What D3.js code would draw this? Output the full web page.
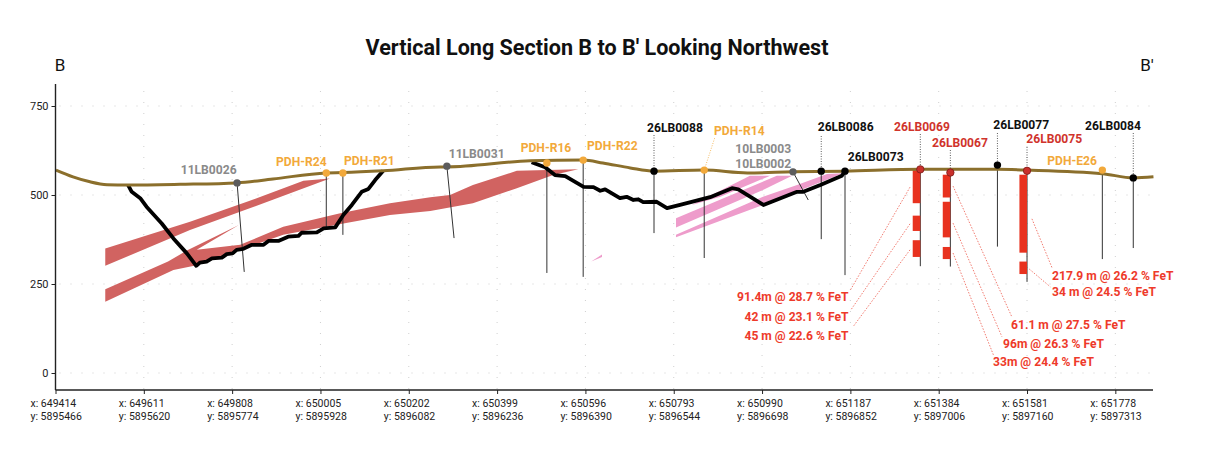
<!DOCTYPE html>
<html>
<head>
<meta charset="utf-8">
<script src="https://cdn.jsdelivr.net/npm/d3@7"></script>
<style>
  html, body { margin: 0; padding: 0; background: #fff; }
  svg { display: block; font-family: Roboto, sans-serif; }
</style>
</head>
<body>
<div id="chart"></div>
<script>
// axis ticks
const elevationTicks = [0, 250, 500, 750];
const tickEastings = [649414, 649611, 649808, 650005, 650202, 650399, 650596, 650793, 650990, 651187, 651384, 651581, 651778];
const tickNorthings = [5895466, 5895620, 5895774, 5895928, 5896082, 5896236, 5896390, 5896544, 5896698, 5896852, 5897006, 5897160, 5897313];

// ground surface as [easting, elevation]
const topography = [
  [649415, 570], [649453, 551], [649491, 537], [649529, 529], [649576, 528], [649692, 530],
  [649819, 534], [649899, 545], [650018, 562], [650055, 563], [650145, 568], [650272, 579],
  [650287, 579], [650473, 596], [650591, 598], [650635, 590], [650696, 576], [650749, 567],
  [650861, 570], [650957, 562], [651059, 565], [651175, 567], [651343, 572], [651515, 572],
  [651581, 570], [651749, 560], [651818, 548], [651863, 551]
];

// thick black pit outlines
const pitWest = [
  [649576, 528], [649584, 509], [649603, 491], [649617, 467], [649651, 420], [649677, 378],
  [649707, 336], [649728, 301], [649736, 310], [649751, 313], [649763, 322], [649785, 324],
  [649796, 334], [649809, 336], [649818, 346], [649833, 349], [649852, 360], [649878, 360],
  [649889, 371], [649911, 371], [649933, 383], [649956, 385], [649963, 394], [649997, 395],
  [650012, 406], [650038, 409], [650056, 444], [650075, 472], [650097, 509], [650112, 517],
  [650127, 542], [650145, 568]
];
const pitEast = [
  [650476, 592], [650506, 578], [650528, 556], [650551, 553], [650592, 523], [650614, 522],
  [650629, 512], [650640, 516], [650673, 491], [650688, 495], [650703, 486], [650714, 488],
  [650725, 480], [650755, 481], [650778, 463], [650807, 472], [650874, 494], [650923, 519],
  [650937, 516], [650993, 472], [651068, 509], [651082, 509], [651120, 528], [651168, 554],
  [651175, 567]
];

// mineralised bodies
const redBodies = [
  [[649525, 350], [649714, 425], [649841, 481], [649967, 540], [650026, 546],
   [649841, 460], [649714, 402], [649525, 301]],
  [[649525, 235], [649665, 313], [649707, 344], [649823, 416], [649729, 346], [649826, 360],
   [649922, 411], [650049, 449], [650160, 477], [650250, 494], [650294, 500], [650345, 528],
   [650443, 568], [650580, 572], [650524, 556], [650443, 519], [650345, 477], [650250, 455],
   [650160, 444], [650038, 416], [649922, 388], [649826, 346], [649729, 303], [649677, 289],
   [649525, 200]]
];
const pinkBodies = [
  [[650833, 472], [650963, 554], [651008, 554], [650897, 495]],
  [[650798, 435], [651023, 554], [651057, 554], [650992, 514], [650798, 409]],
  [[650798, 388], [650992, 495], [651068, 528], [651135, 559], [651171, 561], [650992, 472], [650798, 381]],
  [[650609, 313], [650633, 333], [650633, 326]]
];

// drill holes
const holeNames = ["11LB0026", "PDH-R24", "PDH-R21", "11LB0031", "PDH-R16", "PDH-R22", "26LB0088", "PDH-R14", "10LB0002", "26LB0086", "26LB0073", "26LB0069", "26LB0067", "26LB0077", "26LB0075", "PDH-E26", "26LB0084"];
const holeGroups = ["old", "pdh", "pdh", "old", "pdh", "pdh", "new", "pdh", "old", "new", "new", "hit", "hit", "new", "hit", "pdh", "new"];
const collarEast = [649819, 650018, 650055, 650287, 650510, 650591, 650749, 650861, 651059, 651122, 651175, 651343, 651410, 651515, 651581, 651749, 651818];
const collarElev = [534, 562, 562, 581, 590, 598, 567, 570, 565, 567, 567, 572, 563, 584, 568, 570, 548];
const toeEast = [649835, 650018, 650055, 650303, 650510, 650591, 650749, 650861, 651093, 651122, 651175, 651343, 651410, 651515, 651581, 651749, 651818];
const toeElev = [284, 410, 388, 379, 281, 270, 393, 323, 486, 376, 275, 300, 299, 355, 256, 320, 351];

// high grade intersections: [hole easting, from elevation, to elevation]
const intervals = [
  [651343, 570, 477], [651343, 442, 399], [651343, 373, 326],
  [651410, 557, 493], [651410, 481, 381], [651410, 354, 320],
  [651581, 557, 338], [651581, 313, 278]
];

const calloutTexts = ["91.4m @ 28.7 % FeT", "42 m @ 23.1 % FeT", "45 m @ 22.6 % FeT", "61.1 m @ 27.5 % FeT", "96m @ 26.3 % FeT", "33m @ 24.4 % FeT", "217.9 m @ 26.2 % FeT", "34 m @ 24.5 % FeT"];
const calloutLeaders = [
  [[651320, 522], [651187, 233]], [[651320, 419], [651188, 177]], [[651320, 346], [651193, 130]],
  [[651416, 525], [651547, 158]], [[651416, 421], [651525, 102]], [[651416, 337], [651506, 51]],
  [[651592, 433], [651637, 295]], [[651586, 292], [651633, 242]]
];

// page layout, label placement in pixels
const width = 1220, height = 449;
const margin = { top: 84, right: 67, bottom: 59, left: 55.5 };
const colors = { old: "#5c5c5c", pdh: "#f2a93b", new: "#000000", hit: "#c9302c" };
const labelColors = { old: "#8a8a8a", pdh: "#f2a93b", new: "#111111", hit: "#d0342c" };

// [left x, middle y, leader top y or null]
const holeLabelPlace = {
  "11LB0026": [180.7, 170, null], "PDH-R24": [276, 161.7, null], "PDH-R21": [344, 160.7, null],
  "11LB0031": [448.7, 154, null], "PDH-R16": [520.7, 148, null], "PDH-R22": [587, 145.7, null],
  "26LB0088": [647, 127.7, 135], "PDH-R14": [714, 130.7, null], "10LB0002": [735.3, 164, null],
  "26LB0086": [817.7, 127.3, 136], "26LB0073": [847.7, 157.3, null], "26LB0069": [894, 126.7, 134],
  "26LB0067": [932, 142.7, 150], "26LB0077": [993.3, 125.3, 133], "26LB0075": [1026.3, 139.3, 147],
  "PDH-E26": [1047.3, 161.3, null], "26LB0084": [1085, 125.7, 133]
};
// [x, middle y, anchor]
const calloutPlace = [
  [848.5, 297, "end"], [848.5, 317, "end"], [848.5, 336, "end"],
  [1011, 325, "start"], [1003, 344, "start"], [993, 362, "start"],
  [1052, 276, "start"], [1052, 292, "start"]
];

const svg = d3.select("#chart").append("svg")
  .attr("width", width)
  .attr("height", height);

const x = d3.scaleLinear()
  .domain([649414, 651862])
  .range([margin.left, width - margin.right]);

const y = d3.scaleLinear()
  .domain([0, 750])
  .range([373, 106]);

const px = (d) => x(d[0]);
const py = (d) => y(d[1]);

// dotted grid
const grid = svg.append("g").attr("stroke", "#cfcfcf").attr("stroke-width", 1).attr("stroke-dasharray", "1 10");
grid.selectAll("line.v").data(tickEastings).enter().append("line")
  .attr("x1", (d) => x(d)).attr("x2", (d) => x(d))
  .attr("y1", margin.top + 7).attr("y2", height - margin.bottom);
grid.selectAll("line.h").data(elevationTicks).enter().append("line")
  .attr("x1", margin.left + 4).attr("x2", width - margin.right)
  .attr("y1", (d) => y(d)).attr("y2", (d) => y(d));

// bodies
const polyLine = d3.line().x(px).y(py);
svg.selectAll("path.red").data(redBodies).enter().append("path")
  .attr("class", "red")
  .attr("d", (d) => polyLine(d) + "Z")
  .attr("fill", "#d16361");
svg.selectAll("path.pink").data(pinkBodies).enter().append("path")
  .attr("class", "pink")
  .attr("d", (d) => polyLine(d) + "Z")
  .attr("fill", "#ee9ccb");

// hole traces
svg.selectAll("line.hole").data(holeNames).enter().append("line")
  .attr("class", "hole")
  .attr("x1", (d, i) => x(collarEast[i]))
  .attr("y1", (d, i) => y(collarElev[i]))
  .attr("x2", (d, i) => x(toeEast[i]))
  .attr("y2", (d, i) => y(toeElev[i]))
  .attr("stroke", "#333")
  .attr("stroke-width", 1);

// high grade intervals, right edge sits on the hole trace
const intervalWidth = 7.6;
svg.selectAll("rect.interval").data(intervals).enter().append("rect")
  .attr("class", "interval")
  .attr("x", (d) => x(d[0]) - intervalWidth)
  .attr("y", (d) => y(d[1]))
  .attr("width", intervalWidth)
  .attr("height", (d) => y(d[2]) - y(d[1]))
  .attr("fill", "#e8321f");

// pit outlines and ground surface
svg.selectAll("path.pit").data([pitWest, pitEast]).enter().append("path")
  .attr("class", "pit")
  .attr("d", polyLine)
  .attr("fill", "none")
  .attr("stroke", "#000")
  .attr("stroke-width", 3.8)
  .attr("stroke-linejoin", "round");

svg.append("path")
  .attr("d", d3.line().x(px).y(py).curve(d3.curveMonotoneX)(topography))
  .attr("fill", "none")
  .attr("stroke", "#8b6f2c")
  .attr("stroke-width", 3);

// dotted leaders from callout text to the intervals
svg.selectAll("line.callout").data(calloutLeaders).enter().append("line")
  .attr("class", "callout")
  .attr("x1", (d) => px(d[0]))
  .attr("y1", (d) => py(d[0]))
  .attr("x2", (d) => px(d[1]))
  .attr("y2", (d) => py(d[1]))
  .attr("stroke", "#ee5a4d")
  .attr("stroke-width", 0.8)
  .attr("stroke-dasharray", "1.5 1.5");

svg.selectAll("text.callout").data(calloutTexts).enter().append("text")
  .attr("class", "callout")
  .attr("x", (d, i) => calloutPlace[i][0])
  .attr("y", (d, i) => calloutPlace[i][1])
  .attr("text-anchor", (d, i) => calloutPlace[i][2])
  .attr("dominant-baseline", "central")
  .attr("font-size", 12.1)
  .attr("font-weight", 700)
  .attr("fill", "#ee3a2a")
  .text((d) => d);

// dotted leaders above collars
const leaderIdx = holeNames.map((d, i) => i).filter((i) => holeLabelPlace[holeNames[i]][2] !== null);
svg.selectAll("line.leader").data(leaderIdx).enter().append("line")
  .attr("class", "leader")
  .attr("x1", (i) => x(collarEast[i]))
  .attr("x2", (i) => x(collarEast[i]))
  .attr("y1", (i) => holeLabelPlace[holeNames[i]][2])
  .attr("y2", (i) => y(collarElev[i]))
  .attr("stroke", "#333")
  .attr("stroke-width", 0.8)
  .attr("stroke-dasharray", "1 1.5");

svg.append("line")
  .attr("x1", x(collarEast[7]))
  .attr("y1", y(collarElev[7]))
  .attr("x2", 715)
  .attr("y2", 137)
  .attr("stroke", colors.pdh)
  .attr("stroke-width", 0.8)
  .attr("stroke-dasharray", "1 1.5");

// collars
svg.selectAll("circle.collar").data(holeNames).enter().append("circle")
  .attr("class", "collar")
  .attr("cx", (d, i) => x(collarEast[i]))
  .attr("cy", (d, i) => y(collarElev[i]))
  .attr("r", 3.7)
  .attr("fill", (d, i) => colors[holeGroups[i]])
  .attr("stroke", (d, i) => holeGroups[i] === "hit" ? "#7a1a16" : "none")
  .attr("stroke-width", 0.8);

// hole labels
svg.selectAll("text.hole").data(holeNames).enter().append("text")
  .attr("class", "hole")
  .attr("x", (d) => holeLabelPlace[d][0])
  .attr("y", (d) => holeLabelPlace[d][1])
  .attr("dominant-baseline", "central")
  .attr("font-size", 12.1)
  .attr("font-weight", 700)
  .attr("fill", (d, i) => labelColors[holeGroups[i]])
  .text((d) => d);

svg.append("text")
  .attr("x", 735.3)
  .attr("y", 149.3)
  .attr("dominant-baseline", "central")
  .attr("font-size", 12.1)
  .attr("font-weight", 700)
  .attr("fill", labelColors.old)
  .text("10LB0003");

// axes
const yAxis = svg.append("g")
  .attr("transform", `translate(${margin.left},0)`)
  .call(d3.axisLeft(y).tickValues(elevationTicks).tickSize(4).tickPadding(3));
yAxis.select(".domain").attr("d", `M0,${margin.top}V${height - margin.bottom}`).attr("stroke", "#222").attr("stroke-width", 1.4);
yAxis.selectAll("text").attr("font-size", 11).attr("font-family", "Roboto, sans-serif").attr("fill", "#222");
yAxis.selectAll("line").attr("stroke", "#222");

const xAxis = svg.append("g")
  .attr("transform", `translate(0,${height - margin.bottom})`)
  .call(d3.axisBottom(x).tickValues(tickEastings).tickSize(4).tickFormat(""));
xAxis.select(".domain").attr("d", `M${margin.left},0H${width - margin.right}`).attr("stroke", "#222").attr("stroke-width", 1.4);
xAxis.selectAll("line").attr("stroke", "#222");

const tickLabels = svg.append("g")
  .attr("font-size", 10.5)
  .attr("fill", "#222");
tickLabels.selectAll("text.east").data(tickEastings).enter().append("text")
  .attr("class", "east")
  .attr("x", (d) => x(d) - 25)
  .attr("y", 403.5)
  .attr("dominant-baseline", "central")
  .text((d) => `x: ${d}`);
tickLabels.selectAll("text.north").data(tickNorthings).enter().append("text")
  .attr("class", "north")
  .attr("x", (d, i) => x(tickEastings[i]) - 25)
  .attr("y", 416.5)
  .attr("dominant-baseline", "central")
  .text((d) => `y: ${d}`);

// title and section ends
svg.append("text")
  .attr("x", 597)
  .attr("y", 47)
  .attr("text-anchor", "middle")
  .attr("dominant-baseline", "central")
  .attr("font-size", 21.55)
  .attr("font-weight", 700)
  .attr("fill", "#111")
  .text("Vertical Long Section B to B' Looking Northwest");

svg.append("text")
  .attr("x", 60)
  .attr("y", 65)
  .attr("text-anchor", "middle")
  .attr("dominant-baseline", "central")
  .attr("font-size", 17)
  .attr("fill", "#111")
  .text("B");

svg.append("text")
  .attr("x", 1147)
  .attr("y", 65)
  .attr("text-anchor", "middle")
  .attr("dominant-baseline", "central")
  .attr("font-size", 17)
  .attr("fill", "#111")
  .text("B'");
</script>
</body>
</html>
